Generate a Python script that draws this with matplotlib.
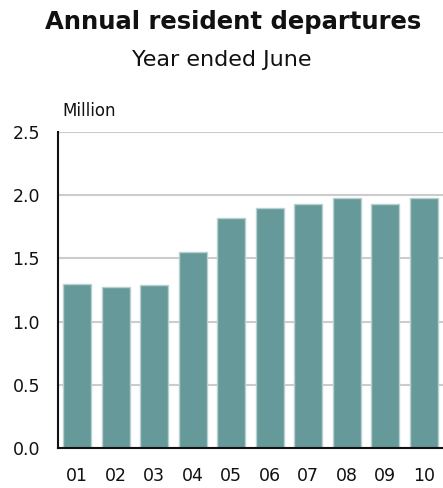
import matplotlib
matplotlib.use("Agg")
import matplotlib.pyplot as plt

# Resident departures, year ended June (millions)
years = ["01", "02", "03", "04", "05", "06", "07", "08", "09", "10"]
departures = [1.30, 1.27, 1.29, 1.55, 1.82, 1.90, 1.93, 1.98, 1.93, 1.98]
y_ticks = [0.0, 0.5, 1.0, 1.5, 2.0, 2.5]

W, H = 443, 488
fig = plt.figure(figsize=(W / 100, H / 100), dpi=100)
ax = fig.add_axes([58 / W, 1 - 448 / H, (W - 58) / W, (448 - 132) / H])

x = range(len(years))
ax.bar(x, departures, width=0.72, color="#669999", edgecolor="#b8d0d0",
       linewidth=1.0, zorder=3)

ax.set_xlim(-0.5, len(years) - 0.5)
ax.set_ylim(0, 2.5)
ax.set_yticks(y_ticks)
ax.set_yticklabels([f"{v:.1f}" for v in y_ticks])
ax.set_xticks(list(x))
ax.set_xticklabels(years)

ax.grid(axis="y", color="#cccccc", linewidth=1.5, zorder=0)
ax.set_axisbelow(True)
for side in ("top", "right"):
    ax.spines[side].set_visible(False)
for side in ("left", "bottom"):
    ax.spines[side].set_color("#111111")
    ax.spines[side].set_linewidth(1.5)
    ax.spines[side].set_zorder(4)

ax.tick_params(axis="both", length=0, labelsize=12.5, colors="#111111")
ax.tick_params(axis="y", pad=13)
ax.tick_params(axis="x", pad=14)

fig.text(233 / W, 1 - 22 / H, "Annual resident departures", ha="center",
         va="center", fontsize=17.5, fontweight="bold", color="#111111")
fig.text(222 / W, 1 - 60 / H, "Year ended June", ha="center", va="center",
         fontsize=16, color="#111111")
fig.text(62 / W, 1 - 111 / H, "Million", ha="left", va="center",
         fontsize=12, color="#111111")

fig.savefig("out.png", dpi=100)
